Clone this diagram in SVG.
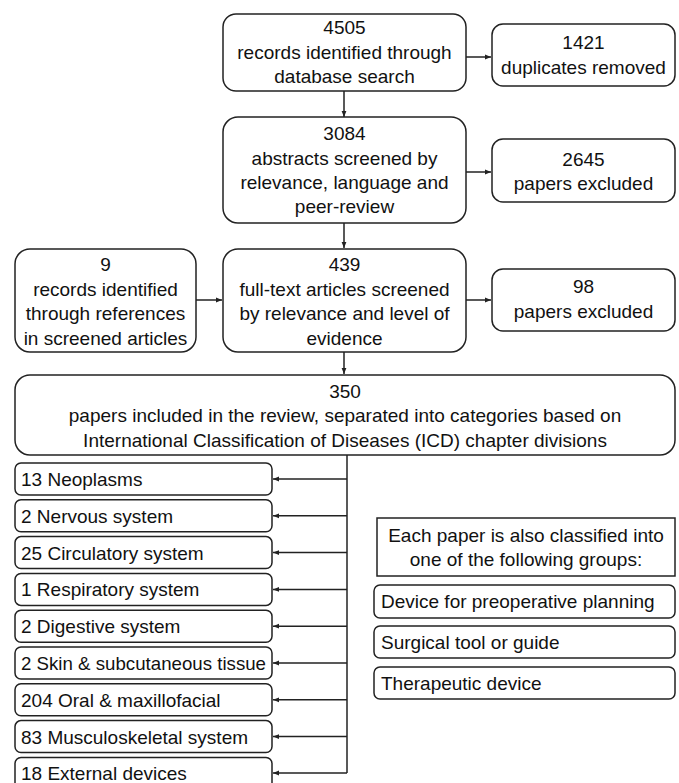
<svg xmlns="http://www.w3.org/2000/svg" width="679" height="783" viewBox="0 0 679 783">
<style>
.b{fill:#fff;stroke:#222;stroke-width:1.5}
.t{font-family:"Liberation Sans",Arial,sans-serif;font-size:19px;fill:#111}
.c{text-anchor:middle}
.l{fill:none;stroke:#222;stroke-width:1.5}
</style>
<defs>
<marker id="a" viewBox="0 0 10 10" refX="10" refY="5" markerWidth="6" markerHeight="6" markerUnits="userSpaceOnUse" orient="auto"><path d="M0,1 L10,5 L0,9 z" fill="#222"/></marker>
</defs>
<rect width="679" height="783" fill="#fff"/>
<g id="connectors">
<path class="l" d="M466,57 H491" marker-end="url(#a)"/>
<path class="l" d="M344,91 V117" marker-end="url(#a)"/>
<path class="l" d="M466,172 H491" marker-end="url(#a)"/>
<path class="l" d="M344,223 V248" marker-end="url(#a)"/>
<path class="l" d="M196,300 H222" marker-end="url(#a)"/>
<path class="l" d="M466,300 H491" marker-end="url(#a)"/>
<path class="l" d="M344,352 V374" marker-end="url(#a)"/>
<path class="l" d="M347,455 V773"/>
<path class="l" d="M347,479 H273" marker-end="url(#a)"/>
<path class="l" d="M347,515.8 H273" marker-end="url(#a)"/>
<path class="l" d="M347,552.6 H273" marker-end="url(#a)"/>
<path class="l" d="M347,589.4 H273" marker-end="url(#a)"/>
<path class="l" d="M347,626.2 H273" marker-end="url(#a)"/>
<path class="l" d="M347,663 H273" marker-end="url(#a)"/>
<path class="l" d="M347,699.8 H273" marker-end="url(#a)"/>
<path class="l" d="M347,736.6 H273" marker-end="url(#a)"/>
<path class="l" d="M347,773 H273" marker-end="url(#a)"/>
</g>
<g id="n4505"><rect class="b" x="223" y="14" width="243" height="77" rx="13"/>
<text class="t c" x="344.5" y="34">4505</text><text class="t c" x="344.5" y="59">records identified through</text><text class="t c" x="344.5" y="83">database search</text></g>
<g id="n1421"><rect class="b" x="492" y="24" width="183" height="62" rx="11"/>
<text class="t c" x="583.5" y="49">1421</text><text class="t c" x="583.5" y="74">duplicates removed</text></g>
<g id="n3084"><rect class="b" x="223" y="117" width="243" height="106" rx="15"/>
<text class="t c" x="344.5" y="140">3084</text><text class="t c" x="344.5" y="165">abstracts screened by</text><text class="t c" x="344.5" y="189">relevance, language and</text><text class="t c" x="344.5" y="213">peer-review</text></g>
<g id="n2645"><rect class="b" x="492" y="139" width="183" height="63" rx="11"/>
<text class="t c" x="583.5" y="166">2645</text><text class="t c" x="583.5" y="190">papers excluded</text></g>
<g id="n9"><rect class="b" x="15" y="249" width="181" height="103" rx="15"/>
<text class="t c" x="105.5" y="271">9</text><text class="t c" x="105.5" y="296">records identified</text><text class="t c" x="105.5" y="320">through references</text><text class="t c" x="105.5" y="345">in screened articles</text></g>
<g id="n439"><rect class="b" x="223" y="249" width="243" height="103" rx="15"/>
<text class="t c" x="344.5" y="271">439</text><text class="t c" x="344.5" y="296">full-text articles screened</text><text class="t c" x="344.5" y="320">by relevance and level of</text><text class="t c" x="344.5" y="345">evidence</text></g>
<g id="n98"><rect class="b" x="492" y="269" width="183" height="62" rx="11"/>
<text class="t c" x="583.5" y="293">98</text><text class="t c" x="583.5" y="318">papers excluded</text></g>
<g id="n350"><rect class="b" x="15" y="375" width="660" height="80" rx="15"/>
<text class="t c" x="345" y="398">350</text><text class="t c" x="345" y="422">papers included in the review, separated into categories based on</text><text class="t c" x="345" y="447">International Classification of Diseases (ICD) chapter divisions</text></g>
<g id="c1"><rect class="b" x="15" y="463" width="257" height="32" rx="6"/><text class="t" x="21" y="486">13 Neoplasms</text></g>
<g id="c2"><rect class="b" x="15" y="499.8" width="257" height="32" rx="6"/><text class="t" x="21" y="522.8">2 Nervous system</text></g>
<g id="c3"><rect class="b" x="15" y="536.6" width="257" height="32" rx="6"/><text class="t" x="21" y="559.6">25 Circulatory system</text></g>
<g id="c4"><rect class="b" x="15" y="573.4" width="257" height="32" rx="6"/><text class="t" x="21" y="596.4">1 Respiratory system</text></g>
<g id="c5"><rect class="b" x="15" y="610.2" width="257" height="32" rx="6"/><text class="t" x="21" y="633.2">2 Digestive system</text></g>
<g id="c6"><rect class="b" x="15" y="647" width="257" height="32" rx="6"/><text class="t" x="21" y="670" textLength="245" lengthAdjust="spacingAndGlyphs">2 Skin &amp; subcutaneous tissue</text></g>
<g id="c7"><rect class="b" x="15" y="683.8" width="257" height="32" rx="6"/><text class="t" x="21" y="706.8">204 Oral &amp; maxillofacial</text></g>
<g id="c8"><rect class="b" x="15" y="720.6" width="257" height="32" rx="6"/><text class="t" x="21" y="743.6">83 Musculoskeletal system</text></g>
<g id="c9"><rect class="b" x="15" y="757.4" width="257" height="32" rx="6"/><text class="t" x="21" y="780.4">18 External devices</text></g>
<g id="g0"><rect class="b" x="377" y="518" width="298" height="58"/>
<text class="t c" x="526" y="542">Each paper is also classified into</text><text class="t c" x="526" y="566">one of the following groups:</text></g>
<g id="g1"><rect class="b" x="374" y="585" width="301" height="33" rx="6"/><text class="t" x="381" y="608">Device for preoperative planning</text></g>
<g id="g2"><rect class="b" x="374" y="626" width="301" height="32" rx="6"/><text class="t" x="381" y="649">Surgical tool or guide</text></g>
<g id="g3"><rect class="b" x="374" y="667" width="301" height="32" rx="6"/><text class="t" x="381" y="690">Therapeutic device</text></g>
</svg>
